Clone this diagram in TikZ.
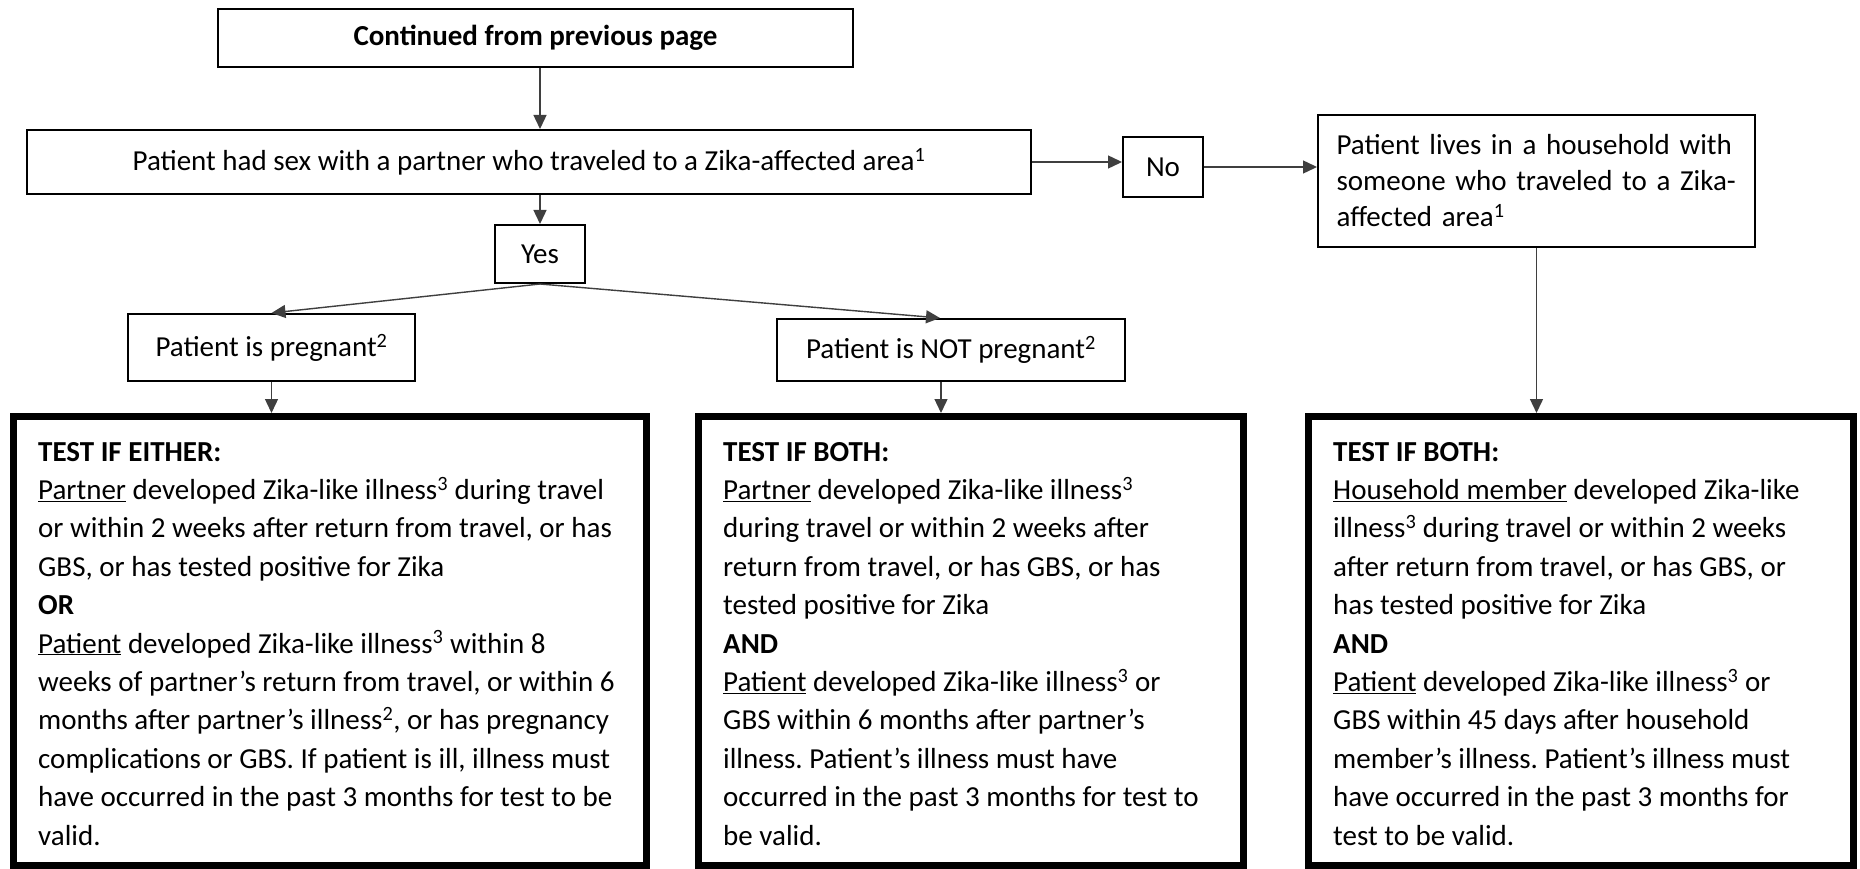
\documentclass[tikz,border=0pt]{standalone}
\usepackage{fontspec}
\setmainfont{Carlito}
\usetikzlibrary{arrows.meta}
\definecolor{linec}{HTML}{3F3F3F}
\frenchspacing
\begin{document}
\begin{tikzpicture}[x=1pt,y=-1pt,
  box/.style={draw=black,line width=2pt,inner sep=0pt,align=center,font=\fontsize{29}{36}\selectfont},
  testbox/.style={draw=black,line width=7pt,inner sep=0pt},
  arr/.style={draw=linec,line width=1.4pt,-{Triangle[length=14pt,width=13pt]}},
  txt/.style={inner sep=0pt,anchor=base west,font=\fontsize{29}{38.4}\selectfont}]
\useasboundingbox (0,0) rectangle (1860,869);

\node[box,minimum width=635pt,minimum height=58pt] (top) at (535.5,38) {\bfseries Continued from previous page};
\node[box,minimum width=1004pt,minimum height=64pt] (main) at (529,162) {Patient had sex with a partner who traveled to a Zika-affected area\textsuperscript{1}};
\node[box,minimum width=90pt,minimum height=58pt] (yes) at (540,254) {Yes};
\node[box,minimum width=80pt,minimum height=60pt] (no) at (1163,167) {No};
\node[box,minimum width=437pt,minimum height=132pt,text width=400pt,align=left] (house) at (1536.5,181) {Patient lives in a household with\\someone who traveled to a Zika-\\affected area\textsuperscript{1}};
\node[box,minimum width=287pt,minimum height=67pt] (preg) at (271.5,347.5) {Patient is pregnant\textsuperscript{2}};
\node[box,minimum width=348pt,minimum height=62pt] (notp) at (951,350) {Patient is NOT pregnant\textsuperscript{2}};

\node[testbox,minimum width=633pt,minimum height=449pt] (L) at (330,641) {};
\node[testbox,minimum width=545pt,minimum height=449pt] (M) at (971,641) {};
\node[testbox,minimum width=545pt,minimum height=449pt] (R) at (1581,641) {};

\node[txt] (tL) at (38,461) {\vtop{\lineskiplimit=-100pt
  \hbox{\bfseries TEST IF EITHER:}
  \hbox{\underline{Partner} developed Zika-like illness\textsuperscript{3} during travel}
  \hbox{or within 2 weeks after return from travel, or has}
  \hbox{GBS, or has tested positive for Zika}
  \hbox{\bfseries OR}
  \hbox{\underline{Patient} developed Zika-like illness\textsuperscript{3} within 8}
  \hbox{weeks of partner’s return from travel, or within 6}
  \hbox{months after partner’s illness\textsuperscript{2}, or has pregnancy}
  \hbox{complications or GBS. If patient is ill, illness must}
  \hbox{have occurred in the past 3 months for test to be}
  \hbox{valid.}}};

\node[txt] (tM) at (723,461) {\vtop{\lineskiplimit=-100pt
  \hbox{\bfseries TEST IF BOTH:}
  \hbox{\underline{Partner} developed Zika-like illness\textsuperscript{3}}
  \hbox{during travel or within 2 weeks after}
  \hbox{return from travel, or has GBS, or has}
  \hbox{tested positive for Zika}
  \hbox{\bfseries AND}
  \hbox{\underline{Patient} developed Zika-like illness\textsuperscript{3} or}
  \hbox{GBS within 6 months after partner’s}
  \hbox{illness. Patient’s illness must have}
  \hbox{occurred in the past 3 months for test to}
  \hbox{be valid.}}};

\node[txt] (tR) at (1333,461) {\vtop{\lineskiplimit=-100pt
  \hbox{\bfseries TEST IF BOTH:}
  \hbox{\underline{Household member} developed Zika-like}
  \hbox{illness\textsuperscript{3} during travel or within 2 weeks}
  \hbox{after return from travel, or has GBS, or}
  \hbox{has tested positive for Zika}
  \hbox{\bfseries AND}
  \hbox{\underline{Patient} developed Zika-like illness\textsuperscript{3} or}
  \hbox{GBS within 45 days after household}
  \hbox{member’s illness. Patient’s illness must}
  \hbox{have occurred in the past 3 months for}
  \hbox{test to be valid.}}};

\draw[arr] (top.south -| yes.north) -- (main.north -| yes.north);
\draw[arr] (main.south -| yes.north) -- (yes.north);
\draw[arr] (main.east) -- (main.east -| no.west);
\draw[arr] (no.east) -- (no.east -| house.west);
\draw[arr] (house.south) -- (house.south |- R.north);
\draw[arr] (yes.south) -- (preg.north);
\draw[arr] (yes.south) -- ([xshift=-11pt]notp.north);
\draw[arr] (preg.south) -- (preg.south |- L.north);
\draw[arr] ([xshift=-10pt]notp.south) -- ([xshift=-10pt]notp.south |- M.north);
\end{tikzpicture}
\end{document}
